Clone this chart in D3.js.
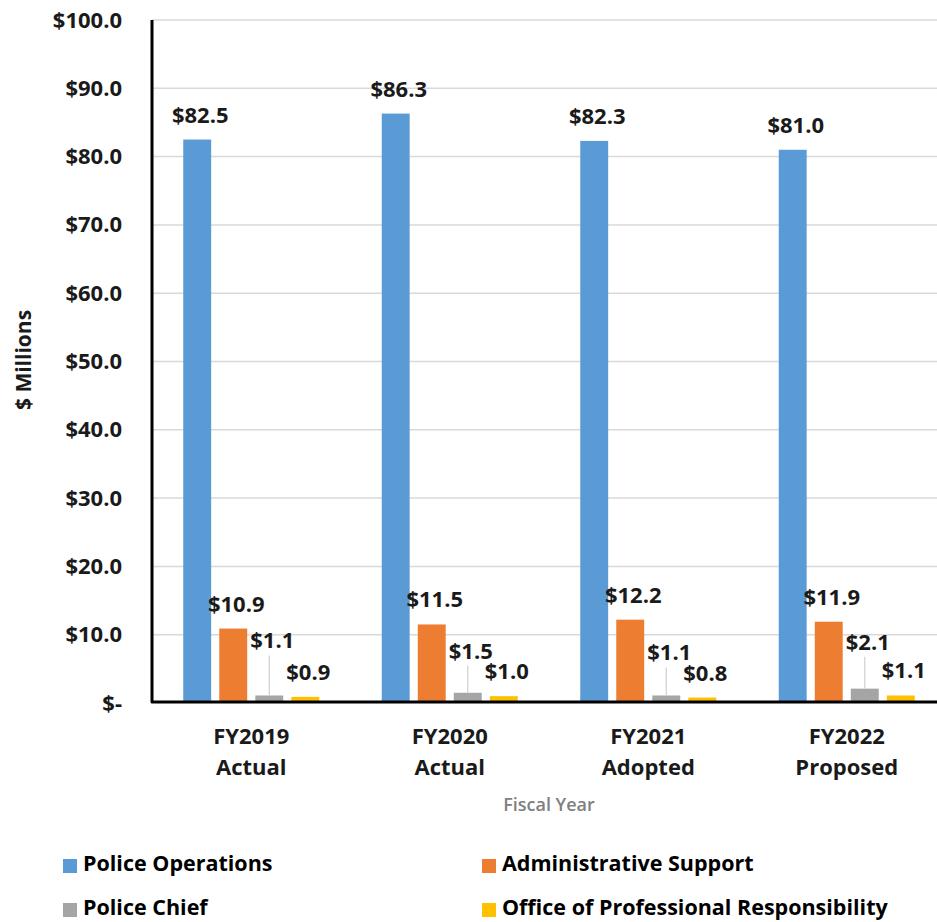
<!DOCTYPE html>
<html>
<head>
<meta charset="utf-8">
<script src="https://cdn.jsdelivr.net/npm/d3@7"></script>
<style>
  html, body { margin: 0; padding: 0; background: #fff; overflow: hidden; }
  svg { display: block; font-family: "Open Sans", "Noto Sans", sans-serif; }
</style>
</head>
<body>
<svg id="chart" width="937" height="922"></svg>
<script>
// data
const years = ["FY2019", "FY2020", "FY2021", "FY2022"]
const yearNotes = ["Actual", "Actual", "Adopted", "Proposed"]
const seriesNames = ["Police Operations", "Administrative Support", "Police Chief", "Office of Professional Responsibility"]
const policeOperations = [82.5, 86.3, 82.3, 81.0]
const adminSupport = [10.9, 11.5, 12.2, 11.9]
const policeChief = [1.1, 1.5, 1.1, 2.1]
const professionalResp = [0.9, 1.0, 0.8, 1.1]
const yTicks = [0, 10, 20, 30, 40, 50, 60, 70, 80, 90, 100]

const seriesValues = [policeOperations, adminSupport, policeChief, professionalResp]
const colors = ["#5b9bd5", "#ed7d31", "#a5a5a5", "#ffc000"]

// chief labels get pulled up with a leader line (like the excel one)
const chiefLift = [30, 17, 18, 22]

const svg = d3.select("#chart")
const LEFT = 152, RIGHT = 946, TOP = 20, BOTTOM = 703
const TEXT = "#1a1a1a"

let x0 = d3.scaleBand()
    .domain(years)
    .range([LEFT, RIGHT])
    .padding(0)
const bw = x0.bandwidth()
const groupW = 136
let x1 = d3.scaleBand()
    .domain(d3.range(seriesNames.length))
    .range([(bw - groupW) / 2, (bw + groupW) / 2])
    .paddingInner(0.225)

let y = d3.scaleLinear()
    .domain([0, 100])
    .range([BOTTOM, TOP])

// gridlines
svg.append("g")
    .selectAll("line")
    .data(yTicks.filter(d => d > 0))
    .join("line")
    .attr("x1", LEFT).attr("x2", 937)
    .attr("y1", d => y(d)).attr("y2", d => y(d))
    .style("stroke", "#d9d9d9")
    .style("stroke-width", 1.5)

// y axis labels
let yAxis = svg.append("g")
    .attr("transform", "translate(" + LEFT + ",0)")
    .call(d3.axisLeft(y).tickValues(yTicks).tickSize(0).tickPadding(30)
        .tickFormat(d => d === 0 ? "$-" : "$" + d3.format(".1f")(d)))
yAxis.select(".domain").remove()
yAxis.selectAll("text")
    .style("font-size", "22px")
    .style("font-weight", 700)
    .style("fill", TEXT)
    .style("font-family", "'Open Sans', sans-serif")

// bars
let groups = svg.append("g")
    .selectAll("g")
    .data(years)
    .join("g")
    .attr("transform", d => "translate(" + x0(d) + ",0)")

groups.each(function (yr, i) {
    let g = d3.select(this)
    seriesValues.forEach((vals, s) => {
        let v = vals[i]
        let bx = x1(s)
        g.append("rect")
            .attr("x", bx)
            .attr("y", y(v))
            .attr("width", x1.bandwidth())
            .attr("height", BOTTOM - y(v))
            .style("fill", colors[s])
        let ly = y(v) - 17
        if (s === 2) {
            ly -= chiefLift[i]
            g.append("line")
                .attr("x1", bx + x1.bandwidth() / 2).attr("x2", bx + x1.bandwidth() / 2)
                .attr("y1", y(v)).attr("y2", ly + 7)
                .style("stroke", "#d0d0d0")
                .style("stroke-width", 1.2)
        }
        g.append("text")
            .attr("x", bx + x1.bandwidth() / 2 + 3)
            .attr("y", ly)
            .attr("text-anchor", "middle")
            .style("font-size", "22px")
            .style("font-weight", 700)
            .style("fill", TEXT)
            .text("$" + d3.format(".1f")(v))
    })
})

// axis lines
svg.append("path")
    .attr("d", "M" + LEFT + "," + TOP + " L" + LEFT + "," + (BOTTOM - 1) + " L940," + (BOTTOM - 1))
    .style("fill", "none")
    .style("stroke", "#000")
    .style("stroke-width", 3)
    .style("stroke-linejoin", "round")

// category labels
let cat = svg.append("g")
    .selectAll("text")
    .data(years)
    .join("text")
    .attr("x", d => x0(d) + bw / 2)
    .attr("y", 744)
    .attr("text-anchor", "middle")
    .style("font-size", "22px")
    .style("font-weight", 700)
    .style("fill", TEXT)
cat.append("tspan").text(d => d)
cat.append("tspan")
    .attr("x", d => x0(d) + bw / 2)
    .attr("dy", 31)
    .text((d, i) => yearNotes[i])

// axis titles
svg.append("text")
    .attr("x", 549).attr("y", 811)
    .attr("text-anchor", "middle")
    .style("font-size", "18px")
    .style("font-weight", 600)
    .style("fill", "#808080")
    .text("Fiscal Year")

svg.append("text")
    .attr("transform", "translate(31,360) rotate(-90)")
    .attr("text-anchor", "middle")
    .style("font-size", "21px")
    .style("font-weight", 700)
    .style("fill", TEXT)
    .text("$ Millions")

// legend
const legendPos = [[63, 866], [482, 866], [63, 910], [482, 910]]
let legend = svg.append("g")
    .selectAll("g")
    .data(seriesNames)
    .join("g")
    .attr("transform", (d, i) => "translate(" + legendPos[i][0] + "," + legendPos[i][1] + ")")
legend.append("rect")
    .attr("x", 0).attr("y", -7)
    .attr("width", 14).attr("height", 14)
    .style("fill", (d, i) => colors[i])
legend.append("text")
    .attr("x", 20).attr("y", 5)
    .style("font-size", "21.5px")
    .style("font-weight", 700)
    .style("fill", "#000")
    .text(d => d)
</script>
</body>
</html>
